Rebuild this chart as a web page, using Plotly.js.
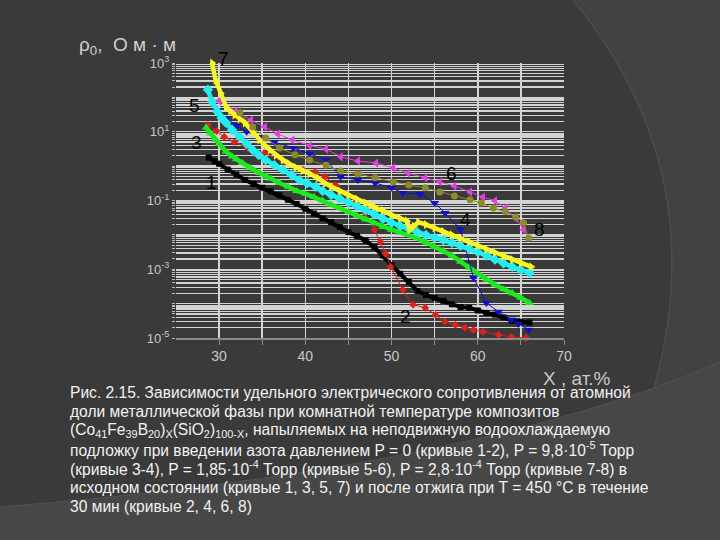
<!DOCTYPE html>
<html>
<head>
<meta charset="utf-8">
<script src="https://cdn.plot.ly/plotly-3.0.1.min.js"></script>
<style>
html,body{margin:0;padding:0;background:#3a3a3a;}
#wrap{position:relative;width:720px;height:540px;overflow:hidden;}
#bg{position:absolute;left:0;top:0;}
#plot{position:absolute;left:0;top:0;width:720px;height:540px;}
</style>
</head>
<body>
<div id="wrap">
<svg id="bg" width="720" height="540">
  <rect x="0" y="0" width="720" height="540" fill="#3a3a3a"/>
  <path d="M573 0 Q762 230 590 540 L720 540 L720 0 Z" fill="#424242"/>
  <path d="M573 0 Q762 230 590 540" fill="none" stroke="#4c4c4c" stroke-width="1.5"/>
  <path d="M0 507 Q470 470 720 362 L720 540 L0 540 Z" fill="#474747"/>
  <path d="M0 507 Q470 470 720 362" fill="none" stroke="#525252" stroke-width="1"/>
</svg>
<div id="plot"></div>
</div>
<script>
// ---- data: log10(rho) ----
const curve1X = [28.8,29.5,30,31,32,33,34,35,36,37,38,39,40,41,42,43,44,45,46,47,48,49,50,51,52,53,54,55,56,57,58,59,60,61,62,63,64,65,66];
const curve1LogRho = [0.25,0.14,0.07,-0.1,-0.24,-0.4,-0.52,-0.63,-0.73,-0.85,-0.98,-1.1,-1.24,-1.38,-1.52,-1.63,-1.77,-1.92,-2.03,-2.17,-2.36,-2.6,-2.88,-3.13,-3.37,-3.63,-3.75,-3.83,-3.92,-4.02,-4.1,-4.12,-4.2,-4.27,-4.32,-4.4,-4.5,-4.53,-4.55];

const curve2X = [28.7,29.7,30.6,31.8,33.3,35.3,37.5,39.7,41.1,42.3,43.5,44.7,45.9,47,48,48.7,49.3,49.9,51.3,52.5,53.9,55.1,56.2,57.4,58.5,59.5,60.6,62.4,63.9,65.6];
const curve2LogRho = [1.2,1.02,0.85,0.7,0.53,0.38,0.12,-0.1,-0.17,-0.31,-0.55,-0.8,-1.05,-1.36,-1.85,-2.2,-2.55,-2.93,-3.6,-4.03,-4.12,-4.33,-4.53,-4.62,-4.7,-4.76,-4.82,-4.91,-4.97,-5.0];

const curve3X = [28.5,29,29.6,30,30.8,31.5,32,32.7,33.5,34,34.7,35.5,36,37,38,39,40,41,42,43,44,45,46,47,48,49,50,51,52,53,54,55,56,57,58,59,60,61,62,63,64,65,66];
const curve3LogRho = [1.12,0.95,0.76,0.65,0.42,0.28,0.2,0.09,-0.04,-0.12,-0.2,-0.3,-0.37,-0.49,-0.6,-0.72,-0.8,-0.9,-1.0,-1.12,-1.22,-1.33,-1.44,-1.55,-1.66,-1.77,-1.85,-1.93,-2.0,-2.1,-2.22,-2.35,-2.46,-2.6,-2.78,-2.95,-3.13,-3.3,-3.45,-3.58,-3.7,-3.83,-3.98];

const curve4X = [29.8,30.8,32,33.2,34.7,36.4,38.6,40.5,42.4,44.1,46.1,48.1,50,51.3,53.3,55,56.2,58,59.5,61,62.4,63.9,64.7,65.9];
const curve4LogRho = [1.62,1.4,1.18,1.0,0.85,0.7,0.53,0.36,0.18,-0.31,-0.4,-0.49,-0.63,-0.78,-0.81,-1.07,-1.36,-1.84,-3.25,-3.98,-4.24,-4.47,-4.59,-4.76];

const curve5X = [28.7,29.2,29.8,30.3,30.8,31.5,32.4,33.2,33.9,34.6,35.4,36.4,37.4,38.4,39.3,40.2,41.2,42,43,44,45,46,47,48,49,50,51,52,53,54,55,56,57,58,59,60,61,62,63,64,65,66];
const curve5LogRho = [2.22,1.87,1.58,1.4,1.26,1.06,0.85,0.65,0.47,0.32,0.18,0.03,-0.11,-0.26,-0.4,-0.5,-0.6,-0.72,-0.84,-0.95,-1.06,-1.17,-1.28,-1.4,-1.53,-1.65,-1.74,-1.83,-1.92,-2.0,-2.08,-2.15,-2.23,-2.32,-2.4,-2.5,-2.6,-2.72,-2.83,-2.93,-3.02,-3.1];

const curve6X = [30,31.9,33.7,35.3,36.8,38.5,40.5,42.4,44.1,46.1,48.2,50.2,51.9,53.9,55.6,57.3,59.1,60.6,62,63.2,64.4,65.3];
const curve6LogRho = [1.9,1.6,1.34,1.14,0.94,0.76,0.6,0.5,0.27,0.15,0.09,-0.05,-0.2,-0.34,-0.46,-0.58,-0.75,-0.9,-1.01,-1.22,-1.51,-1.85];

const curve7X = [28.9,29.2,29.6,30.2,30.8,31.3,31.8,32.4,33,33.9,34.7,35.3,35.9,36.6,37.4,38.1,38.9,39.7,40.5,41.5,42.3,43,44,45,46,47,48,49,50,51,51.8,52.1,52.6,53.1,54,55,56,57,58,59,60,61,62,63,64,65,66.2];
const curve7LogRho = [3.32,3.0,2.5,2.12,1.72,1.6,1.49,1.37,1.26,1.0,0.76,0.6,0.47,0.32,0.18,0.07,-0.04,-0.13,-0.22,-0.35,-0.5,-0.6,-0.72,-0.84,-0.96,-1.07,-1.18,-1.29,-1.42,-1.52,-1.6,-1.85,-1.75,-1.63,-1.7,-1.8,-1.9,-2.0,-2.1,-2.2,-2.31,-2.42,-2.52,-2.62,-2.72,-2.82,-2.93];

const curve8X = [32.4,33.9,35.4,37,38.8,40.5,42.4,44.1,46.1,48.1,50.2,52,53.9,55.6,57.3,59.1,60.4,61.8,63.2,64.4,65.3,65.9];
const curve8LogRho = [1.55,1.14,0.82,0.53,0.33,0.18,0.03,-0.14,-0.23,-0.34,-0.46,-0.55,-0.63,-0.75,-0.87,-0.98,-1.07,-1.22,-1.33,-1.48,-1.65,-2.09];

const xTickValues = [30,40,50,60,70];
const xTickLabels = ['30','40','50','60','70'];
const xMinorValues = [35,45,55,65];
const yLabelExponents = [-5,-3,-1,1,3];
const yTickLabels = ['10<sup>-5</sup>','10<sup>-3</sup>','10<sup>-1</sup>','10<sup>1</sup>','10<sup>3</sup>'];
const curveNames = ['1','2','3','4','5','6','7','8'];

const captionLines = [
 'Рис. 2.15. Зависимости удельного электрического сопротивления от атомной',
 'доли металлической фазы при комнатной температуре композитов',
 '(Co<sub>41</sub>Fe<sub>39</sub>B<sub>20</sub>)<sub>X</sub>(SiO<sub>2</sub>)<sub>100-X</sub>, напыляемых на неподвижную водоохлаждаемую',
 'подложку при введении азота давлением P = 0 (кривые 1-2), P = 9,8·10<sup>-5</sup> Торр',
 '(кривые 3-4), P = 1,85·10<sup>-4</sup> Торр (кривые 5-6), P = 2,8·10<sup>-4</sup> Торр (кривые 7-8) в',
 'исходном состоянии (кривые 1, 3, 5, 7) и после отжига при T = 450 °C в течение',
 '30 мин (кривые 2, 4, 6, 8)'
];

// ---- build ----
const toRho = a => a.map(v => Math.pow(10, v));
const series = [
 {x:curve1X, y:curve1LogRho, color:'#000000', sym:'square', size:6, w:4},
 {x:curve2X, y:curve2LogRho, color:'#e0201c', sym:'diamond', size:6, w:1},
 {x:curve3X, y:curve3LogRho, color:'#1ee81e', sym:'triangle-up', size:8, w:4.5},
 {x:curve4X, y:curve4LogRho, color:'#1010c8', sym:'triangle-down', size:8, w:1},
 {x:curve5X, y:curve5LogRho, color:'#22eef2', sym:'diamond', size:8, w:4.5},
 {x:curve6X, y:curve6LogRho, color:'#e040e0', sym:'triangle-left', size:8, w:1},
 {x:curve7X, y:curve7LogRho, color:'#f6f626', sym:'triangle-right', size:8, w:4.5},
 {x:curve8X, y:curve8LogRho, color:'#8c8a2a', sym:'circle', size:7, w:1}
];
const traces = series.map((s,i) => ({
  type:'scatter', mode:'lines+markers', name:curveNames[i],
  x:s.x, y:toRho(s.y), cliponaxis:false,
  line:{color:s.color, width:s.w},
  marker:{color:s.color, symbol:s.sym, size:s.size, line:{width:0}}
}));

const yMajorVals = yLabelExponents.map(e => Math.pow(10, e));
const yMinorVals = [];
for (let n = -5; n <= 2; n++) {
  for (let m = 1; m <= 9; m++) {
    if (m === 1 && yLabelExponents.indexOf(n) >= 0) continue;
    yMinorVals.push(m*Math.pow(10,n));
  }
}

const L = 176, R = 564, T = 63, B = 338;
const px = v => (v - L)/(R - L);
const py = v => (B - v)/(B - T);

const labelFont = {family:'Liberation Sans, Arial, sans-serif', size:19, color:'#000'};
const curveLabels = [
  {t:'5', x:27.1, y:1.75}, {t:'3', x:27.4, y:0.70},
  {t:'1', x:29.1, y:-0.49}, {t:'6', x:56.9, y:-0.22}, {t:'4', x:58.6, y:-1.56},
  {t:'8', x:67.1, y:-1.83}, {t:'2', x:51.6, y:-4.36}
].map(a => ({xref:'x', yref:'y', x:a.x, y:a.y, text:a.t, showarrow:false, font:labelFont}));
curveLabels.push({xref:'paper', yref:'paper', x:px(223), y:py(58), xanchor:'center', yanchor:'middle',
  text:'7', showarrow:false, font:labelFont});

const captionFont = {family:'Liberation Sans, Arial, sans-serif', size:15.6, color:'#f2f2f2'};
const caption = captionLines.map((t,i) => ({
  xref:'paper', yref:'paper', x:px(68), y:py(392 + i*19), xanchor:'left', yanchor:'middle',
  text:t, showarrow:false, align:'left', font:captionFont
}));

const annotations = curveLabels.concat(caption, [
  {xref:'paper', yref:'paper', x:px(178), y:py(46), xanchor:'right', yanchor:'middle', showarrow:false,
   text:'ρ<sub>0</sub>,  О м · м', font:{family:'Liberation Sans, Arial, sans-serif', size:19, color:'#d0d0d0'}},
  {xref:'paper', yref:'paper', x:px(541), y:py(378), xanchor:'left', yanchor:'middle', showarrow:false,
   text:'X , ат.%', font:{family:'Liberation Sans, Arial, sans-serif', size:19, color:'#c8c8c8'}}
]);

const layout = {
  width:720, height:540,
  margin:{l:L, r:720-R, t:T, b:540-B, pad:0},
  paper_bgcolor:'rgba(0,0,0,0)', plot_bgcolor:'rgba(0,0,0,0)',
  showlegend:false,
  xaxis:{range:[25,70], tickmode:'array', tickvals:xTickValues, ticktext:xTickLabels,
    showgrid:true, gridcolor:'#d4d4d4', gridwidth:1.5, zeroline:false,
    showline:true, linecolor:'#8a8a8a', linewidth:1.5,
    ticks:'outside', ticklen:5, tickcolor:'#8a8a8a', tickwidth:1,
    minor:{tickmode:'array', tickvals:xMinorValues, showgrid:true, gridcolor:'#d4d4d4', gridwidth:1.5,
      ticks:'outside', ticklen:5, tickcolor:'#8a8a8a'},
    tickfont:{family:'Liberation Sans, Arial, sans-serif', size:14, color:'#c8c8c8'}},
  yaxis:{type:'log', range:[-5,3], tickmode:'array', tickvals:yMajorVals, ticktext:yTickLabels,
    showgrid:true, gridcolor:'#d4d4d4', gridwidth:1.3, zeroline:false,
    showline:false, ticks:'outside', ticklen:3, tickcolor:'#bbbbbb',
    minor:{tickmode:'array', tickvals:yMinorVals, showgrid:true, gridcolor:'#d4d4d4', gridwidth:1.3,
      ticks:'outside', ticklen:3, tickcolor:'#bbbbbb'},
    tickfont:{family:'Liberation Sans, Arial, sans-serif', size:13, color:'#c8c8c8'}},
  annotations:annotations
};

Plotly.newPlot('plot', traces, layout, {displayModeBar:false, staticPlot:true});
</script>
</body>
</html>
